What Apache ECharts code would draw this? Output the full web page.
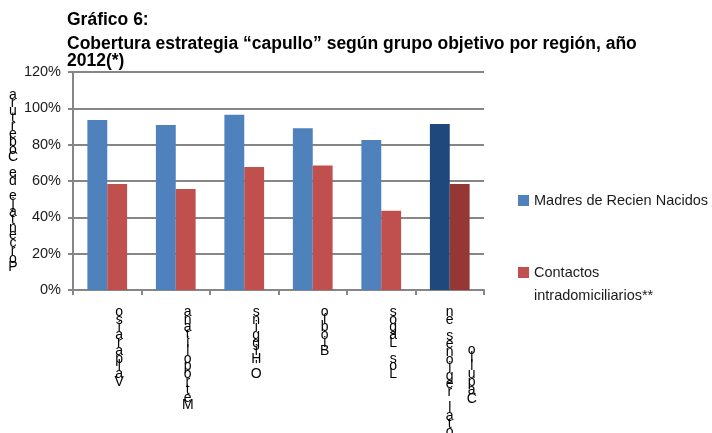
<!DOCTYPE html>
<html>
<head>
<meta charset="utf-8">
<script src="https://cdn.jsdelivr.net/npm/echarts@6/dist/echarts.min.js"></script>
<style>html,body{margin:0;padding:0;background:#fff;}#c{width:712px;height:433px;}</style>
</head>
<body>
<div id="c"></div>
<script>
var categories = ['Valparaíso', 'Metropolitana', "O'Higgins", 'Biobío', 'Los Lagos', 'Total regiones en\nCapullo'];
var madres = [93.6, 90.8, 96.5, 89.0, 82.6, 91.4];
var contactos = [58.3, 55.6, 67.7, 68.6, 43.6, 58.3];
var seriesNames = ['Madres de Recien Nacidos', 'Contactos intradomiciliarios**'];
var yTicks = [0, 20, 40, 60, 80, 100, 120];
var titleLine1 = 'Gráfico 6:';
var titleLine2 = 'Cobertura estrategia “capullo” según grupo objetivo por región, año\n2012(*)';
var yName = 'Porcentaje de Cobertura';

function stack(s) { return Array.from(s).reverse().join('\n'); }
var lastIdx = categories.length - 1;
var font = "'Liberation Sans',sans-serif";

function labelAxis(margin, pad, lh, pick) {
  return { type: 'category', data: categories, position: 'bottom', gridIndex: 0,
    axisLine: { show: false }, axisTick: { show: false }, splitLine: { show: false },
    axisLabel: { interval: 0, margin: margin, fontFamily: font, fontSize: 14, lineHeight: lh, color: '#000', align: 'center',
      padding: [0, 0, 0, pad], formatter: pick } };
}

var chart = echarts.init(document.getElementById('c'));
chart.setOption({
  animation: false,
  title: [
    { text: titleLine1, left: 62, top: 6, textStyle: { fontFamily: font, fontWeight: 'bold', fontSize: 17.5, color: '#000' } },
    { text: titleLine2, left: 62, top: 31, textStyle: { fontFamily: font, fontWeight: 'bold', fontSize: 17.5, lineHeight: 17, color: '#000' } }
  ],
  legend: [
    { data: [{ name: seriesNames[0] }], orient: 'vertical', left: 513, top: 188, itemWidth: 11, itemHeight: 11, icon: 'rect',
      textStyle: { fontFamily: font, fontSize: 14.5, color: '#1a1a1a' } },
    { data: [{ name: seriesNames[1] }], orient: 'vertical', left: 513, top: 233, itemWidth: 11, itemHeight: 11, icon: 'rect',
      formatter: function () { return ' \nContactos\nintradomiciliarios**'; },
      textStyle: { fontFamily: font, fontSize: 14.5, lineHeight: 23, color: '#1a1a1a' } }
  ],
  grid: { left: 73, right: 228, top: 72, bottom: 143, containLabel: false, outerBoundsMode: 'none' },
  xAxis: [
    { type: 'category', data: categories, position: 'bottom',
      axisLine: { lineStyle: { color: '#868686', width: 2 } },
      axisTick: { show: true, length: 5, lineStyle: { color: '#868686', width: 2 } },
      axisLabel: { interval: 0, margin: 18, fontFamily: font, fontSize: 14, lineHeight: 7.8, color: '#000', align: 'center',
        padding: [0, 0, 0, 24],
        formatter: function (v) { return v.indexOf('\n') >= 0 ? '' : stack(v); } } },
    labelAxis(18, 0, 8, function (v) { var p = v.split('\n'); return p.length > 1 ? stack(p[0]) : ''; }),
    labelAxis(56, 44, 8.1, function (v) { var p = v.split('\n'); return p.length > 1 ? stack(p[1]) : ''; })
  ],
  yAxis: {
    type: 'value', min: 0, max: 120, interval: 20,
    name: stack(yName), nameLocation: 'middle', nameRotate: 0, nameGap: 57,
    nameTextStyle: { fontFamily: font, fontSize: 14, lineHeight: 7.8, color: '#000', align: 'center', padding: [0, 0, 9, 0] },
    axisLine: { show: true, lineStyle: { color: '#868686', width: 2 } },
    axisTick: { show: true, length: 5, lineStyle: { color: '#868686', width: 2 } },
    splitLine: { lineStyle: { color: '#868686', width: 2 } },
    axisLabel: { fontFamily: font, fontSize: 14.5, color: '#1a1a1a', margin: 12, formatter: '{value}%' }
  },
  series: [
    { name: seriesNames[0], type: 'bar', barGap: '0%', barCategoryGap: '42%', xAxisIndex: 0,
      itemStyle: { color: '#4F81BD' },
      data: madres.map(function (v, i) { return i === lastIdx ? { value: v, itemStyle: { color: '#1F497D' } } : v; }) },
    { name: seriesNames[1], type: 'bar', xAxisIndex: 0,
      itemStyle: { color: '#C0504D' },
      data: contactos.map(function (v, i) { return i === lastIdx ? { value: v, itemStyle: { color: '#953735' } } : v; }) }
  ]
});
</script>
</body>
</html>
